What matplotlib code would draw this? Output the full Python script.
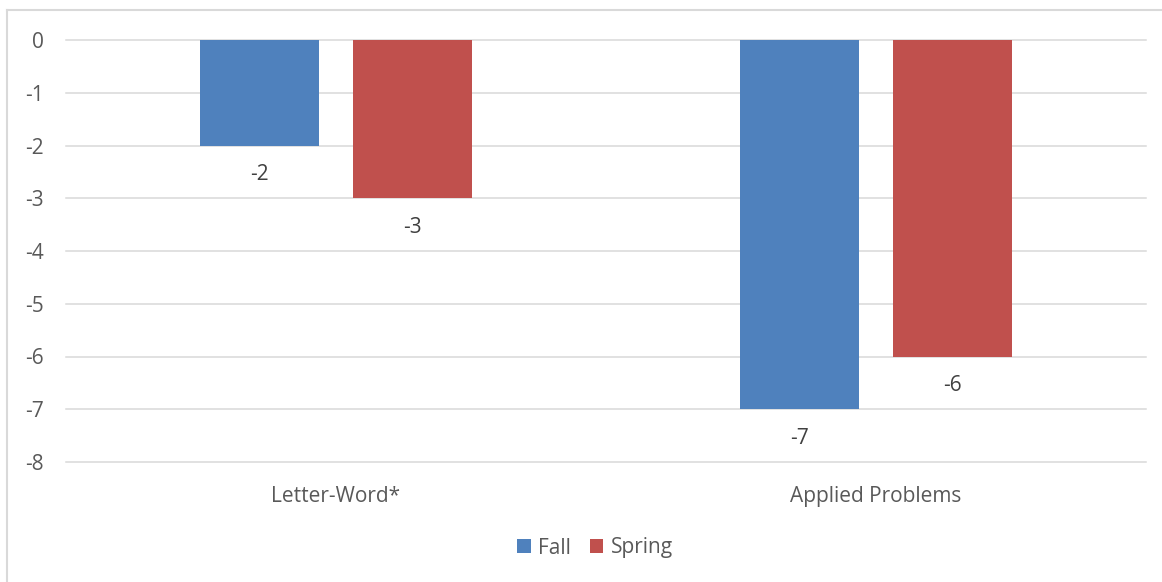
import numpy as np
import matplotlib.pyplot as plt
from matplotlib.lines import Line2D

plt.rcParams['font.family'] = ['Open Sans', 'DejaVu Sans']

categories = ['Letter-Word*', 'Applied Problems']
fall = [-2, -7]
spring = [-3, -6]
yticks = [0, -1, -2, -3, -4, -5, -6, -7, -8]

blue = '#4F81BD'
red = '#C0504D'
txt = '#595959'
grid = '#D9D9D9'
fs = 15

fig = plt.figure(figsize=(11.62, 5.82), dpi=100)
ax = fig.add_axes([66/1162, 1-462/582, 1080/1162, 422/582])

x = np.arange(len(categories))
w = 0.222
off = 0.1417

for yv in yticks:
    ax.axhline(yv, color=grid, lw=1.1, zorder=0, clip_on=False)

b1 = ax.bar(x - off, fall, w, color=blue, label='Fall', zorder=2)
b2 = ax.bar(x + off, spring, w, color=red, label='Spring', zorder=2)

# value labels just under each bar end
for bars, vals in ((b1, fall), (b2, spring)):
    for b, v in zip(bars, vals):
        ax.annotate(str(v), (b.get_x() + b.get_width()/2, v), xytext=(0, -21),
                    textcoords='offset points', ha='center', va='center',
                    fontsize=fs, color='#404040')

ax.set_xlim(-0.5, 1.5)
ax.set_ylim(-8, 0)
ax.set_yticks(yticks)
ax.set_yticklabels([str(v) for v in yticks])
ax.set_xticks(x)
ax.set_xticklabels(categories)
ax.tick_params(axis='both', length=0, labelsize=fs, labelcolor=txt)
ax.tick_params(axis='y', pad=16)
ax.tick_params(axis='x', pad=17)
for s in ax.spines.values():
    s.set_visible(False)

fig.legend(handles=[b1, b2], loc='center', bbox_to_anchor=(595/1162, 1-548/582),
           ncol=2, frameon=False, fontsize=fs, handlelength=0.65, handleheight=0.65,
           handletextpad=0.35, columnspacing=0.9, labelcolor=txt)

# outer chart border (top and left edges)
fig.add_artist(Line2D([7/1162, 7/1162], [0, 1-10/582], color=grid, lw=1.5, transform=fig.transFigure))
fig.add_artist(Line2D([7/1162, 1], [1-10/582, 1-10/582], color=grid, lw=1.5, transform=fig.transFigure))

fig.savefig('out.png', dpi=100)
